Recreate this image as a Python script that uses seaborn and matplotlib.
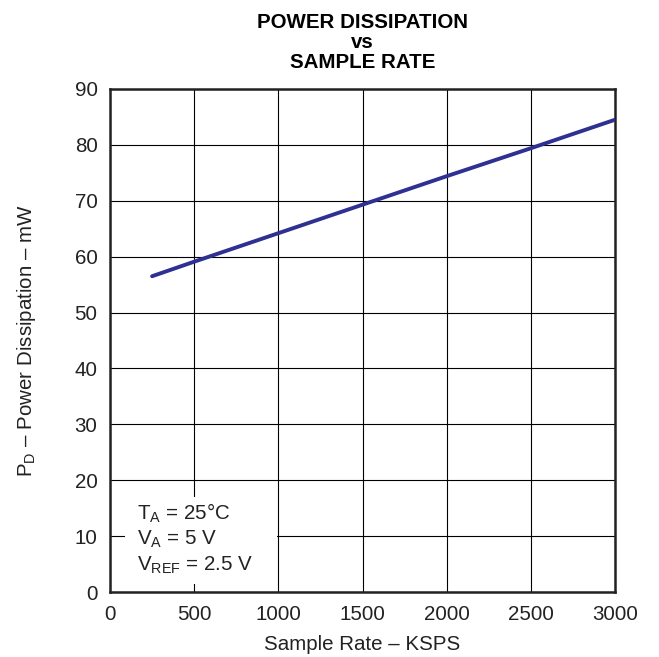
import matplotlib
matplotlib.use("Agg")
import matplotlib.pyplot as plt
from matplotlib.patches import Rectangle
import seaborn as sns
import pandas as pd

sample_rate_ksps = [250, 500, 1000, 1500, 2000, 2500, 3000]
power_mw = [56.5, 59.1, 64.2, 69.3, 74.4, 79.4, 84.5]
x_ticks = [0, 500, 1000, 1500, 2000, 2500, 3000]
y_ticks = [0, 10, 20, 30, 40, 50, 60, 70, 80, 90]

sns.set_theme(style="white")
plt.rcParams['font.family'] = ['Liberation Sans', 'DejaVu Sans']
plt.rcParams['mathtext.fontset'] = 'custom'
plt.rcParams['mathtext.rm'] = 'Liberation Sans'

df = pd.DataFrame({"rate": sample_rate_ksps, "pd": power_mw})

fig = plt.figure(figsize=(6.59, 6.57), dpi=100)
ax = fig.add_axes([110/659, 1-592/657, (615-110)/659, (592-89)/657])

sns.lineplot(data=df, x="rate", y="pd", ax=ax, color="#2E3192", linewidth=2.8, zorder=3)

ax.set_xlim(0, 3000)
ax.set_ylim(0, 90)
ax.set_xticks(x_ticks)
ax.set_yticks(y_ticks)
ax.grid(True, color="black", linewidth=0.8)
for s in ax.spines.values():
    s.set_color("#222222")
    s.set_linewidth(1.8)
ax.tick_params(axis="both", which="both", length=0, labelsize=14.8, colors="#222222", pad=9)

ax.set_xlabel("Sample Rate – KSPS", fontsize=14.8, labelpad=8, color="#222222")
ax.set_ylabel("P$_\\mathregular{D}$ – Power Dissipation – mW", fontsize=14.8, labelpad=26,
              color="#222222")

ax.set_title("POWER DISSIPATION\nvs\nSAMPLE RATE", fontsize=14.8, fontweight="bold",
             linespacing=1.08, pad=15, color="black")

ax.add_patch(Rectangle((89, 1.4), 903, 15.6, facecolor="white", edgecolor="none", zorder=2.5))
ax.text(160, 16.3,
        "T$_\\mathregular{A}$ = 25°C\nV$_\\mathregular{A}$ = 5 V\nV$_\\mathregular{REF}$ = 2.5 V",
        fontsize=14.8, va="top", ha="left", linespacing=1.27, color="#222222", zorder=4)

fig.savefig("out.png", dpi=100)
